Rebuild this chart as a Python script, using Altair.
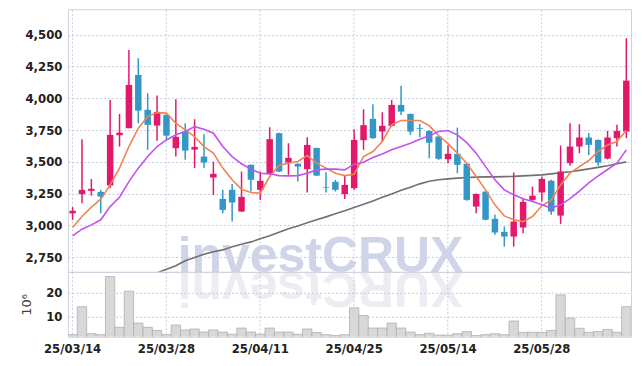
import altair as alt
import pandas as pd

dates = [
    "25/03/14", "25/03/17", "25/03/18", "25/03/19", "25/03/20", "25/03/21",
    "25/03/24", "25/03/25", "25/03/26", "25/03/27", "25/03/28",
    "25/03/31", "25/04/01", "25/04/02", "25/04/03", "25/04/04",
    "25/04/07", "25/04/08", "25/04/09", "25/04/10", "25/04/11",
    "25/04/14", "25/04/15", "25/04/16", "25/04/17", "25/04/18",
    "25/04/21", "25/04/22", "25/04/23", "25/04/24", "25/04/25",
    "25/04/28", "25/04/29", "25/04/30", "25/05/02",
    "25/05/07", "25/05/08", "25/05/09",
    "25/05/12", "25/05/13", "25/05/14", "25/05/15", "25/05/16",
    "25/05/19", "25/05/20", "25/05/21", "25/05/22", "25/05/23",
    "25/05/26", "25/05/27", "25/05/28", "25/05/29", "25/05/30",
    "25/06/02", "25/06/04", "25/06/05",
    "25/06/09", "25/06/10", "25/06/11", "25/06/12",
]
tick_dates = ["25/03/14", "25/03/28", "25/04/11", "25/04/25", "25/05/14", "25/05/28"]

opens = [3095, 3246, 3272, 3264, 3314, 3710, 3765, 4185, 3910, 3786,
         3870, 3608, 3739, 3597, 3542, 3377, 3209, 3280, 3109, 3477,
         3280, 3406, 3726, 3495, 3485, 3443, 3610, 3300, 3343, 3246,
         3293, 3671, 3839, 3739, 3784, 3949, 3878, 3766, 3744, 3700,
         3521, 3563, 3485, 3148, 3266, 3052, 2949, 2912, 2983, 3201,
         3259, 3351, 3077, 3490, 3621, 3692, 3673, 3526, 3687, 3739]
closes = [3115, 3280, 3288, 3227, 3713, 3730, 4106, 3904, 3792, 3894,
          3707, 3697, 3589, 3618, 3495, 3406, 3122, 3180, 3225, 3359,
          3351, 3679, 3424, 3532, 3463, 3634, 3392, 3295, 3280, 3319,
          3673, 3789, 3687, 3784, 3949, 3896, 3739, 3760, 3652, 3524,
          3564, 3477, 3201, 3248, 3044, 2944, 2912, 3030, 3185, 3233,
          3366, 3109, 3424, 3621, 3692, 3634, 3495, 3692, 3744, 4140]
highs = [3144, 3679, 3365, 3280, 3988, 3878, 4382, 4317, 4041, 4022,
         3875, 3994, 3805, 3836, 3718, 3503, 3280, 3325, 3424, 3480,
         3424, 3773, 3730, 3647, 3490, 3695, 3612, 3419, 3359, 3390,
         3758, 3915, 3955, 3891, 3988, 4099, 3880, 3799, 3750, 3705,
         3632, 3770, 3490, 3252, 3270, 3083, 2991, 3416, 3214, 3306,
         3385, 3359, 3629, 3805, 3797, 3726, 3676, 3744, 3792, 4474]
lows = [3044, 3175, 3235, 3096, 3293, 3621, 3765, 3805, 3595, 3666,
        3673, 3542, 3516, 3451, 3451, 3240, 3096, 3030, 3105, 3267,
        3201, 3400, 3420, 3398, 3345, 3259, 3390, 3259, 3267, 3207,
        3280, 3595, 3680, 3660, 3780, 3870, 3713, 3695, 3529, 3516,
        3490, 3411, 3195, 3096, 3040, 2926, 2833, 2833, 2939, 3188,
        3188, 3083, 3012, 3469, 3569, 3555, 3469, 3520, 3621, 3687]
volumes = [2.2, 14.1, 2.6, 2.2, 26.9, 5.3, 20.7, 7.1, 5.3, 4.0,
           2.2, 6.3, 4.2, 4.6, 3.3, 4.2, 3.3, 2.4, 5.0, 3.3,
           2.4, 5.0, 3.3, 3.3, 2.4, 4.6, 3.1, 2.2, 1.8, 2.2,
           13.6, 10.3, 5.0, 5.0, 7.1, 5.0, 3.3, 2.2, 2.8, 2.0,
           2.0, 2.6, 3.5, 1.8, 2.2, 2.6, 2.2, 8.0, 3.2, 3.2,
           3.2, 4.0, 19.1, 9.2, 4.9, 3.2, 3.5, 4.4, 3.2, 14.1]
ma5 = [2983, 3070, 3144, 3207, 3319, 3451, 3621, 3766, 3857, 3888,
       3884, 3805, 3752, 3699, 3621, 3569, 3451, 3359, 3285, 3259,
       3254, 3385, 3471, 3490, 3503, 3550, 3490, 3451, 3411, 3392,
       3403, 3542, 3582, 3660, 3792, 3826, 3826, 3826, 3786, 3708,
       3644, 3569, 3490, 3385, 3280, 3162, 3075, 3044, 3030, 3070,
       3154, 3201, 3319, 3411, 3463, 3511, 3582, 3634, 3660, 3747]
ma10 = [2918, 2970, 3004, 3044, 3148, 3222, 3345, 3451, 3542, 3621,
        3673, 3713, 3739, 3778, 3758, 3726, 3621, 3542, 3485, 3443,
        3411, 3406, 3392, 3390, 3392, 3411, 3437, 3443, 3443, 3437,
        3482, 3498, 3534, 3563, 3595, 3621, 3647, 3679, 3705, 3739,
        3747, 3713, 3652, 3569, 3463, 3359, 3280, 3241, 3209, 3188,
        3162, 3136, 3162, 3210, 3270, 3335, 3390, 3440, 3490, 3595]
ma_long = [None, None, None, None, None, None, None, None, None, 2626,
           2654, 2682, 2721, 2748, 2772, 2792, 2807, 2831, 2851, 2870,
           2894, 2918, 2945, 2973, 2996, 3020, 3044, 3067, 3091, 3115,
           3140, 3166, 3193, 3221, 3248, 3276, 3301, 3327, 3347, 3359,
           3366, 3372, 3377, 3380, 3382, 3382, 3384, 3386, 3390, 3394,
           3398, 3406, 3414, 3422, 3433, 3445, 3457, 3469, 3485, 3500]

price_ticks = [2750, 3000, 3250, 3500, 3750, 4000, 4250, 4500]
vol_ticks = [10, 20]

df = pd.DataFrame({
    "date": dates, "open": opens, "high": highs, "low": lows, "close": closes,
    "vol": volumes, "ma5": ma5, "ma10": ma10, "malong": ma_long,
})

W = 564
H_PRICE = 263
H_VOL = 65
FONT = "DejaVu Sans Condensed, Roboto, sans-serif"
PINK = "#e3186a"
BLUE = "#3398c8"

xscale = alt.Scale(paddingInner=0, paddingOuter=0)

x_grid_axis = alt.Axis(values=tick_dates, labels=False, ticks=False, domain=False,
                       grid=True, title=None, bandPosition=0.5)

base = alt.Chart(df).transform_calculate(
    dir="datum.close >= datum.open ? 'up' : 'down'"
)
xe = alt.X("date:N", sort=dates, scale=xscale, axis=x_grid_axis)
yscale = alt.Scale(domain=[2634, 4702], nice=False, zero=False)
color = alt.Color("dir:N", scale=alt.Scale(domain=["up", "down"], range=[PINK, BLUE]), legend=None)

wm_df = pd.DataFrame({"t": ["investCRUX"], "r": ["XURCtsevni"]})
watermark = alt.Chart(wm_df).mark_text(
    font="Liberation Sans", fontWeight="bold", fontSize=50, align="left",
    baseline="alphabetic", color="#cfd4e8"
).encode(x=alt.value(110), y=alt.value(H_PRICE), text="t:N")
reflection = alt.Chart(wm_df).mark_text(
    font="Liberation Sans", fontWeight="bold", fontSize=50, align="left",
    baseline="alphabetic", angle=180, color="#eeecf3"
).encode(x=alt.value(396), y=alt.value(H_PRICE), text="r:N")

y_axis = alt.Axis(values=price_ticks, format=",d", title=None, ticks=False, domain=False,
                  grid=True, labelPadding=6, labelOverlap=False)

long_line = base.mark_line(color="#707070", strokeWidth=1.6, clip=True).encode(
    x=xe, y=alt.Y("malong:Q", scale=yscale, axis=y_axis))
wicks = base.mark_rule(strokeWidth=1.5).encode(
    x=xe, y=alt.Y("low:Q", scale=yscale, axis=y_axis), y2="high:Q", color=color)
bodies = base.mark_bar(size=6.5).encode(
    x=xe, y=alt.Y("open:Q", scale=yscale, axis=y_axis), y2="close:Q", color=color)
l5 = base.mark_line(color="#ef8550", strokeWidth=1.6).encode(
    x=xe, y=alt.Y("ma5:Q", scale=yscale, axis=y_axis))
l10 = base.mark_line(color="#c451ef", strokeWidth=1.6).encode(
    x=xe, y=alt.Y("ma10:Q", scale=yscale, axis=y_axis))

price = alt.layer(watermark, reflection, long_line, wicks, bodies, l5, l10).properties(
    width=W, height=H_PRICE)

x_axis_bottom = alt.Axis(values=tick_dates, labelAngle=0, ticks=False, domain=False,
                         grid=True, title=None, bandPosition=0.5, labelPadding=6)
vol = alt.Chart(df).mark_bar(color="#d8d8d8", stroke="#b0b0b0", strokeWidth=0.8, clip=True).encode(
    x=alt.X("date:N", sort=dates, scale=xscale, axis=x_axis_bottom),
    y=alt.Y("vol:Q", scale=alt.Scale(domain=[1.3, 28.9], nice=False, zero=False),
            axis=alt.Axis(values=vol_ticks, title="10⁶", ticks=False, domain=False, grid=True,
                          labelPadding=6, titlePadding=12, titleFont="DejaVu Sans",
                          titleFontSize=13, titleFontWeight="normal", titleColor="#444",
                          labelOverlap=False)),
    y2=alt.value(H_VOL),
).properties(width=W, height=H_VOL)

chart = alt.vconcat(price, vol, spacing=0, bounds="flush").properties(
    padding={"left": 12, "top": 0, "right": 2, "bottom": 5}
).configure_axis(
    labelFont=FONT, labelFontSize=13, labelColor="#222", labelFontWeight="bold",
    gridColor="#c5c9de", gridDash=[2, 2], gridWidth=1, labelOverlap=False,
).configure_view(stroke="#cfd2dc")

chart.save("out.html", embed_options={"renderer": "svg", "actions": False})
